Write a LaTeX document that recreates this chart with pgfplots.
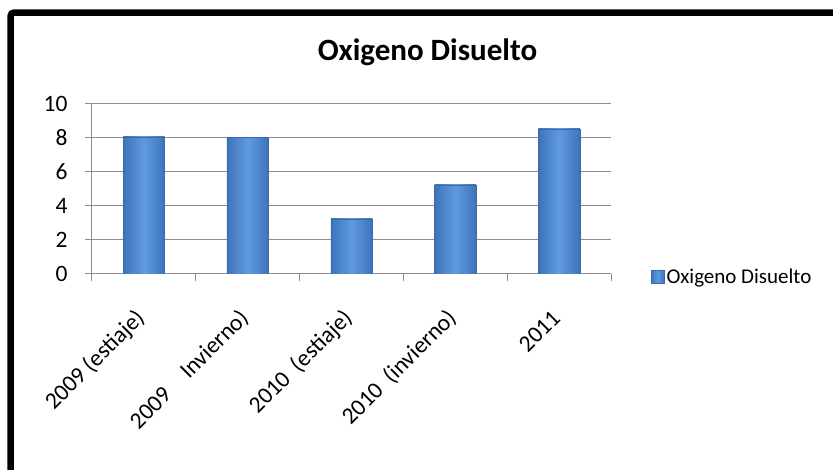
\documentclass[border=0pt]{standalone}
\usepackage{pgfplots}
\pgfplotsset{compat=1.18}
\usepackage{fontspec}
\setmainfont{Carlito}
\definecolor{bardark}{HTML}{3F72BA}
\definecolor{barmid}{HTML}{5E9BE0}
\definecolor{baredge}{HTML}{3A68A8}
\definecolor{gridgray}{HTML}{8C8C8C}
\begin{document}
\begin{tikzpicture}
\useasboundingbox (0pt,0pt) rectangle (833pt,470pt);
\draw[line width=6.5pt, rounded corners=3pt] (10.7pt,-20pt) -- (10.7pt,457.3pt) -- (850pt,457.3pt);
\node[font=\fontsize{31}{37}\selectfont\bfseries] at (427.5pt,417.3pt) {Oxigeno Disuelto};
\begin{axis}[
  scale only axis,
  width=519pt, height=170pt,
  at={(92pt,196pt)}, anchor=south west,
  xmin=-0.5, xmax=4.5, ymin=0, ymax=10,
  ytick={0,2,4,6,8,10},
  axis x line*=bottom, axis y line*=left,
  axis line style={draw=gridgray, line width=1pt},
  tick align=outside,
  major tick length=7pt,
  tick style={draw=gridgray, line width=1pt},
  ymajorgrids,
  grid style={draw=gridgray, line width=1pt},
  xtick={-0.5,0.5,1.5,2.5,3.5,4.5},
  xticklabels={},
  extra x ticks={0,1,2,3,4},
  extra x tick labels={2009 (estiaje),2009\quad Invierno),2010\ \ (estiaje),2010\ \ (invierno),2011},
  extra x tick style={major tick length=0pt, xticklabel style={rotate=45, anchor=east, yshift=-26.5pt, xshift=-27pt}},
  ticklabel style={font=\fontsize{23.5}{28}\selectfont},
  yticklabel style={xshift=-14pt},
  /pgf/number format/assume math mode=true,
  legend style={draw=none, fill=none, at={(1.077,-0.015)}, anchor=west, font=\fontsize{21}{25}\selectfont, inner sep=0pt},
  legend cell align=left,
  legend image code/.code={\shade[left color=bardark, right color=bardark, middle color=barmid, draw=baredge] (0pt,-6.5pt) rectangle (13pt,6.5pt);},
  barstyle/.style={ybar, bar width=41.5pt, bar shift=0pt, draw=baredge, left color=bardark, right color=bardark, middle color=barmid},
]
\addplot[barstyle] coordinates {(0,8.06)};
\addlegendentry{Oxigeno Disuelto}
\addplot[barstyle, forget plot] coordinates {(1,8.03)};
\addplot[barstyle, forget plot] coordinates {(2,3.24)};
\addplot[barstyle, forget plot] coordinates {(3,5.25)};
\addplot[barstyle, forget plot] coordinates {(4,8.53)};
\end{axis}
\end{tikzpicture}
\end{document}
